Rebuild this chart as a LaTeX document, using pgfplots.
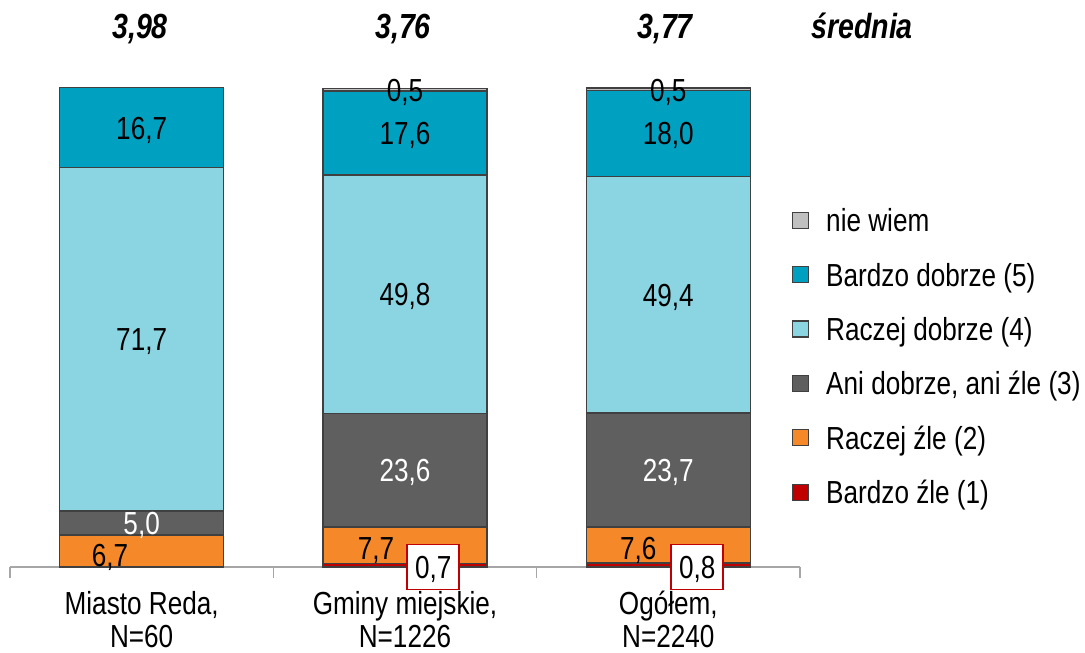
\documentclass[border=0pt]{standalone}
\usepackage{fontspec}
\setmainfont{Liberation Sans}[FakeStretch=0.82]
\usepackage{pgfplots}
\pgfplotsset{compat=1.18}
\definecolor{cNW}{HTML}{C0C0C0}
\definecolor{cBD}{HTML}{00A0C0}
\definecolor{cRD}{HTML}{8BD5E2}
\definecolor{cAni}{HTML}{5F5F5F}
\definecolor{cRZ}{HTML}{F5892A}
\definecolor{cBZ}{HTML}{C00000}
\definecolor{cEdge}{HTML}{404040}
\definecolor{cAxis}{HTML}{A6A6A6}
\newcommand{\fs}{\fontsize{32}{30}\selectfont}
\begin{document}
\begin{tikzpicture}[x=1bp,y=1bp,
  lab/.style={font=\fs, inner sep=0pt, text height=23bp, text depth=0pt},
  boxlab/.style={lab, fill=white, draw=cBZ, line width=1.8bp, minimum width=52bp, minimum height=45bp},
  ttl/.style={font=\fontsize{35}{40}\selectfont\bfseries\itshape, inner sep=0pt, text height=25bp, text depth=0pt}]
\useasboundingbox (0,0) rectangle (1085,653);
\begin{axis}[
  at={(10bp,86bp)}, anchor=south west,
  width=790bp, height=479bp, scale only axis,
  xmin=-0.5, xmax=2.5, ymin=0, ymax=100,
  clip=false,
  axis x line*=bottom, axis y line=none,
  axis line style={cAxis, line width=1.5bp},
  xtick={0,1,2},
  xticklabels={{Miasto Reda,\\[3bp]N=60},{Gminy miejskie,\\[3bp]N=1226},{Ogółem,\\[3bp]N=2240}},
  xticklabel style={font=\fs, align=center, anchor=north, inner sep=0pt, yshift=-24bp},
  major tick length=0pt,
  minor xtick={-0.5,0.5,1.5,2.5},
  minor tick length=11bp,
  xtick align=outside,
  tick style={cAxis, line width=1.5bp},
  ybar stacked, bar width=164bp,
  legend style={at={(0.9899,0.748)}, anchor=north west, draw=none, fill=none,
    font=\fs, row sep=24.4bp, column sep=17bp, inner sep=0pt, outer sep=0pt,
    nodes={inner sep=0pt, text height=23bp, text depth=7bp, anchor=base west}},
  legend cell align=left,
  reverse legend,
  legend image code/.code={\draw[#1, line width=1.2bp] (0bp,3.5bp) rectangle (16bp,19.5bp);},
  every axis plot/.append style={draw=cEdge, line width=1.5bp},
]
\addplot[fill=cBZ] coordinates {(0,0) (1,0.7) (2,0.8)};
\addlegendentry{Bardzo źle (1)}
\addplot[fill=cRZ] coordinates {(0,6.7) (1,7.7) (2,7.6)};
\addlegendentry{Raczej źle (2)}
\addplot[fill=cAni] coordinates {(0,5.0) (1,23.6) (2,23.7)};
\addlegendentry{Ani dobrze, ani źle (3)}
\addplot[fill=cRD] coordinates {(0,71.7) (1,49.8) (2,49.4)};
\addlegendentry{Raczej dobrze (4)}
\addplot[fill=cBD] coordinates {(0,16.7) (1,17.6) (2,18.0)};
\addlegendentry{Bardzo dobrze (5)}
\addplot[fill=cNW] coordinates {(0,0) (1,0.5) (2,0.5)};
\addlegendentry{nie wiem}

% label anchor points: Miasto Reda
\coordinate (a2) at (axis cs:-0.12,2.6);
\coordinate (a3) at (axis cs:0,9.2);
\coordinate (a4) at (axis cs:0,47.55);
\coordinate (a5) at (axis cs:0,91.75);
% Gminy miejskie
\coordinate (b1) at (axis cs:1.107,0);
\coordinate (b2) at (axis cs:0.89,4.0);
\coordinate (b3) at (axis cs:1,20.2);
\coordinate (b4) at (axis cs:1,56.9);
\coordinate (b5) at (axis cs:1,90.6);
\coordinate (b6) at (axis cs:1,99.6);
% Ogolem
\coordinate (c1) at (axis cs:2.11,0);
\coordinate (c2) at (axis cs:1.886,4.0);
\coordinate (c3) at (axis cs:2,20.25);
\coordinate (c4) at (axis cs:2,56.8);
\coordinate (c5) at (axis cs:2,90.5);
\coordinate (c6) at (axis cs:2,99.6);
\end{axis}
\node[lab] at (a2) {6,7};
\node[lab, text=white] at (a3) {5,0};
\node[lab] at (a4) {71,7};
\node[lab] at (a5) {16,7};
\node[boxlab] at (b1) {0,7};
\node[lab] at (b2) {7,7};
\node[lab, text=white] at (b3) {23,6};
\node[lab] at (b4) {49,8};
\node[lab] at (b5) {17,6};
\node[lab] at (b6) {0,5};
\node[boxlab] at (c1) {0,8};
\node[lab] at (c2) {7,6};
\node[lab, text=white] at (c3) {23,7};
\node[lab] at (c4) {49,4};
\node[lab] at (c5) {18,0};
\node[lab] at (c6) {0,5};
\node[ttl] at (140,627) {3,98};
\node[ttl] at (403,627) {3,76};
\node[ttl] at (665,627) {3,77};
\node[ttl] at (862,627) {średnia};
\end{tikzpicture}
\end{document}
